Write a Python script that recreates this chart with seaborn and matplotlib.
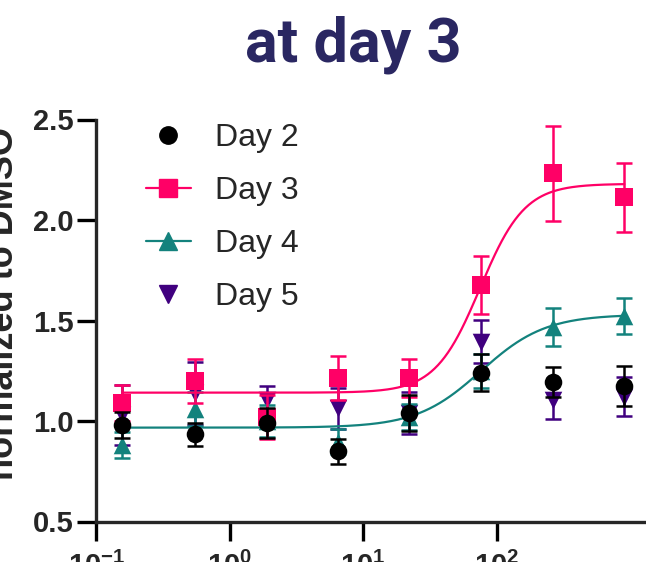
import numpy as np
import pandas as pd
import seaborn as sns
import matplotlib.pyplot as plt
from matplotlib.lines import Line2D

sns.set_style("ticks")
plt.rcParams["font.family"] = ["Liberation Sans", "DejaVu Sans"]
plt.rcParams["mathtext.fontset"] = "custom"
plt.rcParams["mathtext.rm"] = "Liberation Sans:bold"
plt.rcParams["mathtext.default"] = "rm"

# concentrations
conc = [0.157, 0.552, 1.89, 6.5, 22.1, 75.9, 263, 904]

day2 = [0.98, 0.935, 0.99, 0.85, 1.04, 1.24, 1.193, 1.174]
day2_err = [0.066, 0.057, 0.075, 0.062, 0.09, 0.093, 0.075, 0.099]
day3 = [1.088, 1.20, 1.02, 1.212, 1.215, 1.677, 2.232, 2.112]
day3_err = [0.09, 0.11, 0.11, 0.11, 0.095, 0.143, 0.238, 0.173]
day4 = [0.88, 1.06, 1.0, 0.897, 1.02, 1.249, 1.469, 1.524]
day4_err = [0.065, 0.085, 0.08, 0.063, 0.065, 0.085, 0.095, 0.09]
day5 = [1.03, 1.138, 1.104, 1.063, 1.04, 1.395, 1.104, 1.121]
day5_err = [0.15, 0.157, 0.07, 0.103, 0.105, 0.107, 0.096, 0.096]

# 4PL fit parameters (bottom, top, logEC50, hill)
fit3 = (1.141, 2.18, 1.875, 2.6)
fit4 = (0.967, 1.53, 1.882, 1.8)

labels = ["Day 2", "Day 3", "Day 4", "Day 5"]
colors = ["black", "#FF0066", "#13827D", "#40007F"]
markers = ["o", "s", "^", "v"]

xtick_values = [0.1, 1, 10, 100]
xtick_labels = ["$10^{-1}$", "$10^{0}$", "$10^{1}$", "$10^{2}$"]
ytick_values = [0.5, 1.0, 1.5, 2.0, 2.5]

W, H = 646, 562
fig = plt.figure(figsize=(W / 100, H / 100), dpi=100)
ax = fig.add_axes([96.2 / W, 1 - 521.5 / H, (W - 96.2) / W, (521.5 - 119.5) / H])
ax.set_xscale("log")


def four_pl(x, p):
    b, t, lec, h = p
    return b + (t - b) / (1 + 10 ** ((lec - np.log10(x)) * h))


xs = np.logspace(np.log10(conc[0]), np.log10(conc[-1]), 300)
sns.lineplot(x=xs, y=four_pl(xs, fit3), color=colors[1], lw=1.6, ax=ax, zorder=4)
sns.lineplot(x=xs, y=four_pl(xs, fit4), color=colors[2], lw=1.6, ax=ax, zorder=4)

series = [(day2, day2_err), (day3, day3_err), (day4, day4_err), (day5, day5_err)]
zorders = [6, 5, 3, 2]
for (m, e), c, mk, lab, z in zip(series, colors, markers, labels, zorders):
    ax.errorbar(conc, m, yerr=e, fmt="none", ecolor=c, elinewidth=1.8,
                capsize=6, capthick=1.8, zorder=z)
    df = pd.DataFrame({"conc": conc, "val": m})
    sns.scatterplot(data=df, x="conc", y="val", marker=mk, color=c, s=160,
                    linewidth=0, ax=ax, zorder=z + 0.5, legend=False)

ax.set_xlim(0.1, 10 ** (-1 + (W - 96.2) / 133.5))
ax.set_ylim(0.5, 2.5)
ax.set_xticks(xtick_values)
ax.set_xticklabels(xtick_labels)
ax.xaxis.set_minor_locator(plt.NullLocator())
ax.set_yticks(ytick_values)
ax.set_yticklabels([f"{v:.1f}" for v in ytick_values])
ax.set_xlabel("")
ax.set_ylabel("")
sns.despine(ax=ax)
for s in ["left", "bottom"]:
    ax.spines[s].set_linewidth(2.4)
ax.tick_params(axis="both", length=13.5, width=2.4, color="black")
ax.tick_params(axis="y", pad=3)
ax.tick_params(axis="x", pad=8)
for t in ax.get_yticklabels():
    t.set_fontsize(21)
    t.set_fontweight("bold")
for t in ax.get_xticklabels():
    t.set_fontsize(21)

handles = []
for i, (c, mk, lab) in enumerate(zip(colors, markers, labels)):
    ls = "-" if i in (1, 2) else "none"
    handles.append(Line2D([], [], color=c, marker=mk, markersize=12.5,
                          linestyle=ls, lw=1.6, label=lab))
ax.legend(handles=handles, loc="upper left", bbox_to_anchor=(146 / W, 1 - 123 / H),
          bbox_transform=fig.transFigure, frameon=False, borderpad=0,
          borderaxespad=0, handlelength=1.4, handletextpad=0.75,
          labelspacing=0.72, prop={"family": "Liberation Sans", "size": 23})

fig.text(353 / W, 1 - 45 / H, "at day 3", ha="center", va="center",
         fontsize=44, fontweight="bold", color="#2A2762",
         family=["Roboto", "DejaVu Sans"])
fig.text(21 / W, 1 - 303 / H, "normalized to DMSO", rotation=90, ha="right",
         va="center", fontsize=26, fontweight="bold")

fig.savefig("out.png", dpi=100)
